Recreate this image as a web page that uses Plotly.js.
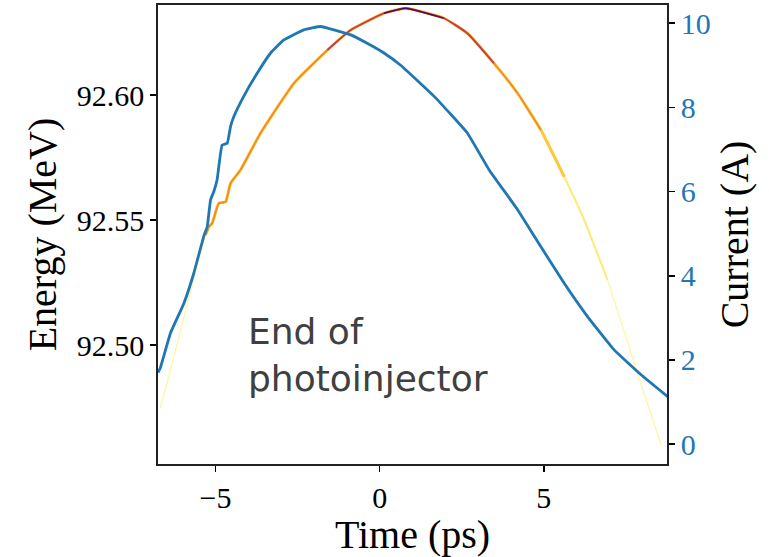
<!DOCTYPE html>
<html>
<head>
<meta charset="utf-8">
<script src="https://cdn.plot.ly/plotly-3.0.1.min.js"></script>
<style>html,body{margin:0;padding:0;background:#fff;}#chart{width:769px;height:557px;}</style>
</head>
<body>
<div id="chart"></div>
<script>
// Energy (longitudinal phase space centroid)
const timeEnergy = [-6.68, -6.37, -5.98, -5.30, -5.20, -5.10, -4.90, -4.69, -4.54, -4.24, -3.63, -2.61, -1.59, -0.88, 0.13, 0.79, 1.96, 2.67, 3.48, 4.20, 4.91, 5.62, 6.23, 6.94, 7.75, 8.57];
const energyMeV  = [92.4747, 92.490, 92.510, 92.544, 92.5473, 92.5487, 92.5567, 92.5573, 92.5647, 92.570, 92.5847, 92.6047, 92.618, 92.626, 92.6327, 92.6347, 92.6307, 92.6247, 92.6127, 92.6007, 92.586, 92.5673, 92.550, 92.526, 92.4927, 92.460];

// Current profile
const timeCurrent = [-6.75, -6.68, -6.37, -5.96, -5.66, -5.36, -5.25, -5.15, -5.05, -4.95, -4.80, -4.64, -4.54, -4.44, -4.14, -3.73, -3.32, -2.92, -2.31, -1.80, -1.39, -0.88, -0.38, 0.13, 0.64, 1.66, 2.67, 3.33, 4.20, 4.91, 5.62, 6.33, 7.14, 7.96, 8.77];
const currentA    = [1.70, 1.81, 2.64, 3.35, 4.06, 4.93, 5.17, 5.80, 6.00, 6.28, 7.10, 7.15, 7.55, 7.78, 8.26, 8.81, 9.29, 9.60, 9.84, 9.92, 9.84, 9.72, 9.52, 9.29, 9.00, 8.26, 7.39, 6.52, 5.57, 4.69, 3.82, 3.03, 2.24, 1.65, 1.13];

// Ticks
const xTickVals = [-5, 0, 5];
const xTickText = ["\u22125", "0", "5"];
const yTickVals = [92.50, 92.55, 92.60];
const yTickText = ["92.50", "92.55", "92.60"];
const y2TickVals = [0, 2, 4, 6, 8, 10];
const y2TickText = ["0", "2", "4", "6", "8", "10"];

// density-coloured layers along the energy curve (time window, colour, width)
const layerWindows = [[-99, 99], [-5.3, 7.0], [-5.3, 5.7], [-5.3, 5.0], [-1.6, 3.5], [-0.4, 2.0]];
const layerColors  = ["#fbf7a6", "#fdeb78", "#fdc93a", "#f48b22", "#c43d4f", "#4a0c6b"];
const layerWidths  = [1.3, 2.0, 3.0, 1.8, 1.8, 1.3];

function seg(lo, hi) {
  const xs = [], ys = [];
  for (let i = 0; i < timeEnergy.length; i++) {
    if (timeEnergy[i] >= lo && timeEnergy[i] <= hi) { xs.push(timeEnergy[i]); ys.push(energyMeV[i]); }
  }
  return {xs, ys};
}

const traces = [];
layerWindows.forEach((w, k) => {
  const s = seg(w[0], w[1]);
  traces.push({x: s.xs, y: s.ys, type: 'scatter', mode: 'lines', xaxis: 'x', yaxis: 'y',
    line: {color: layerColors[k], width: layerWidths[k], shape: 'spline', smoothing: 0.4}, hoverinfo: 'skip'});
});
traces.push({x: timeCurrent, y: currentA, type: 'scatter', mode: 'lines', xaxis: 'x', yaxis: 'y2',
  line: {color: '#1f77b4', width: 2.8, shape: 'spline', smoothing: 0.3}});

const tickFont = {family: 'Liberation Serif, Times New Roman, serif', size: 30, color: '#000'};
const titleFont = {family: 'Liberation Serif, Times New Roman, serif', size: 40, color: '#000'};
const annFont = {family: 'DejaVu Sans, sans-serif', size: 36, color: '#404040'};

const layout = {
  width: 769, height: 557,
  margin: {l: 158, r: 102, t: 5, b: 93},
  paper_bgcolor: '#fff', plot_bgcolor: '#fff',
  showlegend: false,
  xaxis: {range: [-6.75, 8.75], tickvals: xTickVals, ticktext: xTickText, ticks: 'outside', ticklen: 6, tickwidth: 1.5,
    tickcolor: '#000', showline: true, linecolor: '#222', linewidth: 1.8, mirror: true, showgrid: false, zeroline: false,
    tickfont: tickFont, title: {text: 'Time (ps)', font: titleFont, standoff: 5}, automargin: false},
  yaxis: {range: [92.4524, 92.636], tickvals: yTickVals, ticktext: yTickText, ticks: 'outside', ticklen: 6, tickwidth: 1.5,
    tickcolor: '#000', showline: true, linecolor: '#222', linewidth: 1.8, mirror: true, showgrid: false, zeroline: false,
    tickfont: tickFont, title: {text: 'Energy (MeV)', font: titleFont, standoff: 8}, automargin: false},
  yaxis2: {overlaying: 'y', side: 'right', range: [-0.47, 10.43], tickvals: y2TickVals, ticktext: y2TickText, ticks: 'outside',
    ticklen: 6, tickwidth: 1.5, tickcolor: '#000', showline: true, linecolor: '#222', linewidth: 1.8, showgrid: false, zeroline: false,
    tickfont: Object.assign({}, tickFont, {color: '#1f77b4'}), title: {text: 'Current (A)', font: titleFont, standoff: 10}, automargin: false},
  annotations: [
    {text: 'End of<br>photoinjector', xref: 'paper', yref: 'paper', x: 0.1736, y: 0.238, xanchor: 'left', yanchor: 'middle',
      align: 'left', showarrow: false, font: annFont}
  ]
};

Plotly.newPlot('chart', traces, layout, {staticPlot: true, displayModeBar: false});
</script>
</body>
</html>
